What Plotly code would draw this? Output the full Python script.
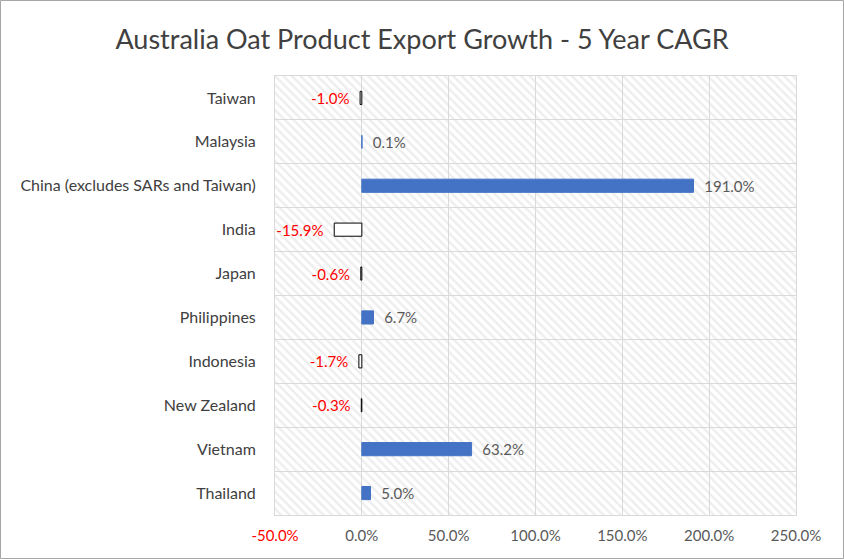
import plotly.graph_objects as go

categories = ["Taiwan", "Malaysia", "China (excludes SARs and Taiwan)", "India", "Japan",
              "Philippines", "Indonesia", "New Zealand", "Vietnam", "Thailand"]
cagr = [-1.0, 0.1, 191.0, -15.9, -0.6, 6.7, -1.7, -0.3, 63.2, 5.0]
x_min, x_max, x_step = -50, 250, 50
tick_vals = list(range(x_min, x_max + 1, x_step))

BLUE = "#4472C4"
GREY = "#595959"
RED = "#FF0000"
GRID = "#D9D9D9"
FONT = "Lato"

W, H = 844, 559
ml, mr, mt, mb = 275, 48, 76, 44
pw, ph = W - ml - mr, H - mt - mb

fig = go.Figure()

# hatched background rows (drawn on a hidden subplot underneath)
fig.add_trace(go.Bar(
    y=categories, x=[x_max - x_min] * len(categories), base=[x_min] * len(categories),
    orientation="h", width=1, xaxis="x", yaxis="y", hoverinfo="skip", showlegend=False,
    marker=dict(color="white", line=dict(width=0),
                pattern=dict(shape="\\", fgcolor="#DCDCDC", bgcolor="white", size=6, solidity=0.4)),
))

colors = [BLUE if v >= 0 else "white" for v in cagr]
lcolors = [BLUE if v >= 0 else "black" for v in cagr]
tcolors = [GREY if v >= 0 else RED for v in cagr]
texts = [f"  {v:.1f}%" if v >= 0 else f"{v:.1f}%  " for v in cagr]

fig.add_trace(go.Bar(
    y=categories, x=cagr, orientation="h", width=0.3, xaxis="x2", yaxis="y2",
    marker=dict(color=colors, line=dict(color=lcolors, width=1)),
    text=texts, textposition="outside", cliponaxis=False, constraintext="none",
    textfont=dict(family=FONT, size=15, color=tcolors), showlegend=False,
))

tick_text = [f'<span style="color:{RED}">{v:.1f}%</span>' if v < 0 else f"{v:.1f}%" for v in tick_vals]

fig.update_layout(
    width=W, height=H, margin=dict(l=ml, r=mr, t=mt, b=mb),
    paper_bgcolor="white", plot_bgcolor="rgba(0,0,0,0)",
    barmode="overlay",
    title=dict(text="Australia Oat Product Export Growth - 5 Year CAGR", x=0.5, xref="container",
               xanchor="center", y=0.93, yanchor="middle",
               font=dict(family=FONT, size=27, color="#404040")),
    xaxis=dict(range=[x_min, x_max], visible=False, domain=[0, 1]),
    yaxis=dict(type="category", categoryorder="array", categoryarray=categories,
               range=[len(categories) - 0.5, -0.5], visible=False, domain=[0, 1]),
    xaxis2=dict(range=[x_min, x_max], tickvals=tick_vals, ticktext=tick_text, anchor="y2",
                showgrid=True, gridcolor=GRID, gridwidth=1, zeroline=False,
                showline=True, linecolor=GRID, mirror=True, ticks="",
                tickfont=dict(family=FONT, size=15, color=GREY), domain=[0, 1],
                ticklabelstandoff=7),
    yaxis2=dict(type="category", categoryorder="array", categoryarray=categories, anchor="x2",
                range=[len(categories) - 0.5, -0.5], tickson="boundaries",
                showgrid=True, gridcolor=GRID, gridwidth=1, showline=True, linecolor=GRID,
                mirror=True, ticks="", ticklabelstandoff=15,
                tickfont=dict(family=FONT, size=16, color="#404040"), domain=[0, 1]),
)

# outer chart frame
fig.add_shape(type="rect", xref="paper", yref="paper",
              x0=(0.5 - ml) / pw, x1=(W - 0.5 - ml) / pw,
              y0=(ph + mt - (H - 0.5)) / ph, y1=(ph + mt - 0.5) / ph,
              line=dict(color="#A6A6A6", width=1), fillcolor="rgba(0,0,0,0)", layer="below")

fig.write_html("out.html", config={"displayModeBar": False},
               post_script="document.body.style.margin='0px';")
